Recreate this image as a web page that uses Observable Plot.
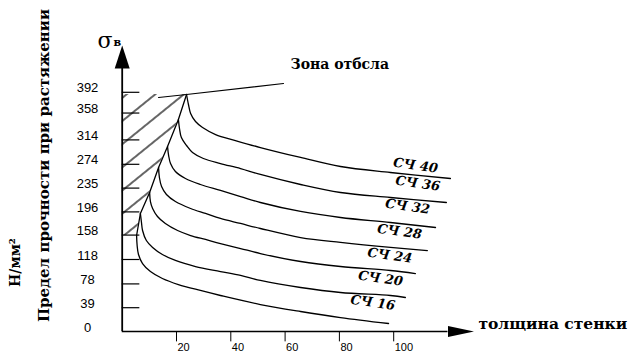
<!DOCTYPE html>
<html><head><meta charset="utf-8">
<script src="https://cdn.jsdelivr.net/npm/d3@7"></script>
<script src="https://cdn.jsdelivr.net/npm/@observablehq/plot@0.6"></script>
<style>html,body{margin:0;padding:0;background:#fff}svg{display:block}</style>
</head><body><div id="chart"></div>
<script>
// ---- data (x = wall thickness, y = tensile strength, N/mm²) ----
const grades = ["СЧ 40","СЧ 36","СЧ 32","СЧ 28","СЧ 24","СЧ 20","СЧ 16"];
const sch40 = [[23.7,388.4],[24.4,372],[25.2,357.3],[27.0,344.1],[29.6,334.3],[34.4,322.8],[41.7,313.0],[50.9,301.5],[65.7,285.2],[80.4,270.4],[98.8,260.6],[120.9,250.7]];
const sch36 = [[20.7,347.4],[21.1,332.7],[21.8,317.9],[23.7,304.8],[25.9,293.3],[29.9,283.5],[36.2,275.3],[43.6,267.1],[50.9,257.3],[65.7,240.9],[80.4,227.8],[98.8,219.6],[119.4,211.4]];
const sch32 = [[16.7,303.2],[17.1,288.4],[17.8,275.3],[19.6,262.2],[23.3,250.7],[28.8,240.9],[36.2,231.1],[43.6,221.2],[50.9,211.4],[65.7,196.7],[80.4,186.8],[98.8,178.6],[115.4,170.4]];
const sch28 = [[13.4,268.8],[13.7,252.4],[14.5,237.6],[16.3,224.5],[19.6,213.0],[25.2,201.6],[30.7,193.4],[36.2,185.2],[43.6,177.0],[50.9,168.8],[65.7,154.0],[80.4,145.9],[98.8,137.7],[112.4,132.7]];
const sch24 = [[10.1,227.8],[10.4,213.0],[11.2,201.6],[13.0,188.5],[15.9,177.0],[20.4,165.5],[25.2,157.3],[30.7,150.8],[36.2,144.2],[43.6,136.0],[50.9,127.8],[65.7,114.7],[80.4,106.5],[98.8,100.0],[108.0,95.0]];
const sch20 = [[6.7,193.4],[7.1,178.6],[7.5,165.5],[8.9,149.1],[11.2,137.7],[14.8,126.2],[19.6,116.4],[27.0,106.5],[36.2,98.3],[43.6,91.8],[50.9,83.6],[65.7,72.1],[80.4,63.9],[98.8,59.0],[104.3,55.7]];
const sch16 = [[5.3,157.3],[5.5,140.9],[6.0,126.2],[7.5,111.4],[10.4,98.3],[14.8,86.9],[20.7,77.0],[28.8,67.2],[36.2,59.0],[50.9,44.2],[65.7,32.8],[80.4,22.9],[98.1,13.1]];
const boundary = [[5.3,157.3],[6.7,193.4],[10.1,227.8],[13.4,268.8],[16.7,303.2],[20.7,347.4],[23.7,388.4]];
const chillLine = [[13.4,383.5],[23.7,388.4],[59.4,406.4]];
const labelPos = [[99.9,277.0],[100.7,247.5],[96.9,209.8],[94.0,168.8],[90.4,129.5],[87.0,91.8],[84.1,52.4]];
const yTicks = [0,39,78,118,158,196,235,274,314,358,392];
const xTicks = [20,40,60,80,100];
const yTitle = "Предел прочности при растяжении";
const yUnit = "Н/мм²";
const xTitle = "толщина стенки";
const zoneTitle = "Зона отбсла";

const curves = [sch40, sch36, sch32, sch28, sch24, sch20, sch16];
const rows = curves.flatMap((c, i) => c.map(([x, y]) => ({grade: grades[i], x, y})));
const labels = grades.map((g, i) => ({grade: g, x: labelPos[i][0], y: labelPos[i][1]}));

const upArrow = {draw(ctx) { ctx.moveTo(0, -23); ctx.lineTo(7.5, 0); ctx.lineTo(-7.5, 0); ctx.closePath(); }};
const rightArrow = {draw(ctx) { ctx.moveTo(26, 0); ctx.lineTo(0, -5.5); ctx.lineTo(0, 5.5); ctx.closePath(); }};

const sans = "Liberation Sans";
const serif = "DejaVu Serif";

const plot = Plot.plot({
  width: 643, height: 359,
  marginLeft: 121.7, marginRight: 195.5, marginTop: 68, marginBottom: 28,
  x: {domain: [0, 120], axis: null},
  y: {domain: [0, 431], axis: null},
  style: {background: "white", overflow: "visible", color: "black"},
  marks: [
    Plot.areaX(boundary, {y: d => d[1], x1: 0, x2: d => d[0], fill: "url(#hatch)", curve: "linear"}),
    Plot.line(boundary, {x: d => d[0], y: d => d[1], stroke: "black", strokeWidth: 1.3}),
    Plot.line(chillLine, {x: d => d[0], y: d => d[1], stroke: "black", strokeWidth: 1.2}),
    Plot.line(rows, {x: "x", y: "y", z: "grade", stroke: "black", strokeWidth: 1.3, curve: "catmull-rom"}),
    Plot.ruleX([0], {y1: 0, y2: 431, stroke: "black", strokeWidth: 1.8}),
    Plot.ruleY([0], {x1: 0, x2: 120, stroke: "black", strokeWidth: 1.6}),
    Plot.ruleY(yTicks.filter(v => v > 0), {x1: 0, x2: 6.5, stroke: "black", strokeWidth: 1.2}),
    Plot.ruleX(xTicks, {y1: 0, y2: -17, stroke: "black", strokeWidth: 1}),
    Plot.dot([[0, 431]], {x: d => d[0], y: d => d[1], symbol: upArrow, fill: "black", stroke: "none"}),
    Plot.dot([[120, 0]], {x: d => d[0], y: d => d[1], symbol: rightArrow, fill: "black", stroke: "none"}),
    Plot.text(yTicks, {x: 0, y: d => d, text: d => String(d), dx: -34.7, dy: -4, textAnchor: "middle", fontSize: 13, fontFamily: sans, fill: "black"}),
    Plot.text(xTicks, {x: d => d, y: 0, text: d => String(d), dx: 1, dy: 16, textAnchor: "start", fontSize: 11, fontFamily: sans, fill: "black"}),
    Plot.text(labels, {x: "x", y: "y", text: "grade", textAnchor: "start", rotate: 8, fontSize: 13, fontStyle: "italic", fontWeight: "bold", fontFamily: serif, fill: "black", ariaLabel: "grade-label"}),
    Plot.text([zoneTitle], {x: 62.0, y: 437.2, text: d => d, textAnchor: "start", fontSize: 14, fontWeight: "bold", fontFamily: serif, fill: "black", ariaLabel: "zone-title"}),
    Plot.text([xTitle], {x: 131.2, y: 11.6, text: d => d, textAnchor: "start", fontSize: 15.5, fontWeight: "bold", fontFamily: serif, fill: "black", ariaLabel: "x-title"}),
    Plot.text([yTitle], {x: -28.6, y: 272.0, text: d => d, textAnchor: "middle", rotate: -90, fontSize: 15, fontWeight: "bold", fontFamily: serif, fill: "black", ariaLabel: "y-title"}),
    Plot.text([yUnit], {x: -39.2, y: 113.1, text: d => d, textAnchor: "middle", rotate: -90, fontSize: 14, fontWeight: "bold", fontFamily: serif, fill: "black", ariaLabel: "y-unit"}),
    Plot.text(["σ"], {x: -9.1, y: 476, text: d => d, textAnchor: "start", fontSize: 22, fontFamily: serif, fill: "black"}),
    Plot.text(["в"], {x: -3.2, y: 473, text: d => d, textAnchor: "start", fontSize: 11, fontWeight: "bold", fontFamily: serif, fill: "black"})
  ]
});

const ns = "http://www.w3.org/2000/svg";
const defs = document.createElementNS(ns, "defs");
const pat = document.createElementNS(ns, "pattern");
pat.setAttribute("id", "hatch");
pat.setAttribute("patternUnits", "userSpaceOnUse");
pat.setAttribute("width", "18");
pat.setAttribute("height", "18");
pat.setAttribute("patternTransform", "rotate(-39)");
const ln = document.createElementNS(ns, "line");
ln.setAttribute("x1", "0"); ln.setAttribute("y1", "9");
ln.setAttribute("x2", "18"); ln.setAttribute("y2", "9");
ln.setAttribute("stroke", "black"); ln.setAttribute("stroke-width", "1.2");
pat.appendChild(ln); defs.appendChild(pat);
plot.insertBefore(defs, plot.firstChild);

plot.querySelectorAll('g[aria-label="grade-label"] text').forEach(t => {
  const [a, b] = t.textContent.split(" ");
  t.textContent = "";
  const t1 = document.createElementNS(ns, "tspan"); t1.textContent = a;
  const t2 = document.createElementNS(ns, "tspan"); t2.textContent = b;
  t2.setAttribute("dx", "3"); t2.setAttribute("dy", "3"); t2.setAttribute("font-size", "11");
  t.appendChild(t1); t.appendChild(t2);
});
const spread = (label, ls) => plot.querySelectorAll(`g[aria-label="${label}"] text`).forEach(t => t.setAttribute("letter-spacing", ls));
spread("y-title", 0.9); spread("x-title", 4.5); spread("zone-title", 1.7); spread("y-unit", 0.5);

document.getElementById("chart").appendChild(plot);
</script>
</body></html>
